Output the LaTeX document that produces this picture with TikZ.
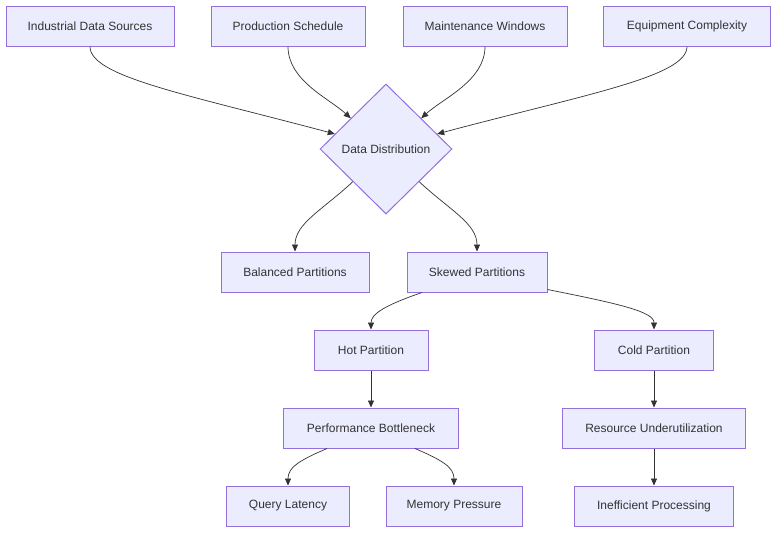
\documentclass[tikz,border=0pt]{standalone}
\usepackage{fontspec}
\setmainfont{Liberation Sans}
\usetikzlibrary{arrows.meta,shapes.geometric,calc}
\definecolor{mmfill}{HTML}{ECECFF}
\definecolor{mmborder}{HTML}{9370DB}
\definecolor{mmtext}{HTML}{333333}
\definecolor{mmedge}{HTML}{333333}
\begin{document}
\begin{tikzpicture}[x=1pt,y=-1pt,
  box/.style={draw=mmborder, fill=mmfill, line width=1pt, minimum height=40pt,
    minimum width=#1, inner sep=0pt, font=\fontsize{12}{14}\selectfont, text=mmtext},
  decision/.style={draw=mmborder, fill=mmfill, line width=1pt, diamond, aspect=1,
    minimum width=132pt, minimum height=130pt, inner sep=0pt,
    font=\fontsize{12}{14}\selectfont, text=mmtext},
  edge/.style={draw=mmedge, line width=0.7pt, -{Triangle[length=7pt,width=6pt]}}
]
\fill[white] (0,0) rectangle (784,539);
\useasboundingbox (0,0) rectangle (784,539);

\node[box=168pt] (ids) at (90,26) {Industrial Data Sources};
\node[box=154pt] (ps) at (288,26) {Production Schedule};
\node[box=164pt] (mw) at (485,26) {Maintenance Windows};
\node[box=167pt] (ec) at (687,26) {Equipment Complexity};
\node[decision] (dd) at (386,149) {Data Distribution};
\node[box=148pt] (bp) at (295,272) {Balanced Partitions};
\node[box=140pt] (sp) at (477,272) {Skewed Partitions};
\node[box=114pt] (hp) at (371,350) {Hot Partition};
\node[box=119pt] (cp) at (654,350) {Cold Partition};
\node[box=175pt] (pb) at (371,428) {Performance Bottleneck};
\node[box=183pt] (ru) at (654,428) {Resource Underutilization};
\node[box=123pt] (ql) at (288,506) {Query Latency};
\node[box=136pt] (mp) at (454,506) {Memory Pressure};
\node[box=159pt] (ip) at (654,506) {Inefficient Processing};

\coordinate (d1) at ($(dd.west)!0.23!(dd.north)$);
\coordinate (d2) at ($(dd.west)!0.47!(dd.north)$);
\coordinate (d3) at ($(dd.east)!0.47!(dd.north)$);
\coordinate (d4) at ($(dd.east)!0.23!(dd.north)$);
\coordinate (d5) at ($(dd.west)!0.5!(dd.south)$);
\coordinate (d6) at ($(dd.east)!0.5!(dd.south)$);
\coordinate (s1) at ($(sp.south)+(-55,0)$);
\coordinate (s2) at ($(sp.south east)+(0,-3)$);
\coordinate (b1) at ($(pb.south)+(-44,0)$);
\coordinate (b2) at ($(pb.south)+(44,0)$);

\draw[edge] (ids.south) .. controls +(0,30) and +(-150,-40) .. (d1);
\draw[edge] (ps.south) .. controls +(0,34) and +(-22,-20) .. (d2);
\draw[edge] (mw.south) .. controls +(0,34) and +(22,-20) .. (d3);
\draw[edge] (ec.south) .. controls +(0,30) and +(150,-40) .. (d4);
\draw[edge] (d5) .. controls +(-30,28) and +(0,-28) .. (bp.north);
\draw[edge] (d6) .. controls +(30,28) and +(0,-28) .. (sp.north);
\draw[edge] (s1) .. controls +(-35,12) and +(0,-16) .. (hp.north);
\draw[edge] (s2) .. controls +(70,14) and +(0,-18) .. (cp.north);
\draw[edge] (hp) -- (pb);
\draw[edge] (cp) -- (ru);
\draw[edge] (ru) -- (ip);
\draw[edge] (b1) .. controls +(-28,12) and +(0,-18) .. (ql.north);
\draw[edge] (b2) .. controls +(28,12) and +(0,-18) .. (mp.north);
\end{tikzpicture}
\end{document}
